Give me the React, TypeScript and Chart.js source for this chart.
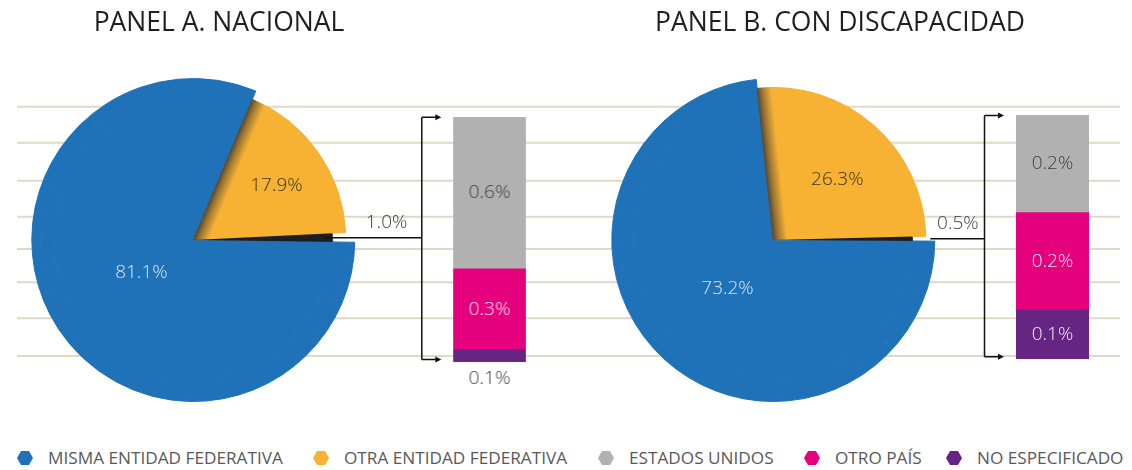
import React, { useEffect, useRef } from 'react';
import { Chart, registerables } from 'chart.js';

Chart.register(...registerables);

// ---------------- data ----------------
const panelTitles = ['PANEL A. NACIONAL', 'PANEL B. CON DISCAPACIDAD'];
const legendCategories = ['MISMA ENTIDAD FEDERATIVA', 'OTRA ENTIDAD FEDERATIVA', 'ESTADOS UNIDOS', 'OTRO PAÍS', 'NO ESPECIFICADO'];
const pieCategories = ['MISMA ENTIDAD FEDERATIVA', 'OTRA ENTIDAD FEDERATIVA', 'OTROS'];
const pieNacional = [81.1, 17.9, 1.0];
const pieDiscapacidad = [73.2, 26.3, 0.5];
const barCategories = ['ESTADOS UNIDOS', 'OTRO PAÍS', 'NO ESPECIFICADO'];
const barNacional = [0.62, 0.33, 0.05];
const barDiscapacidad = [0.2, 0.2, 0.1];

// ---------------- style / layout ----------------
const BLUE = '#1F71B8';
const YELLOW = '#F7B133';
const DARK = '#1e1e1e';
const GRAY = '#B1B1B1';
const PINK = '#E5007E';
const PURPLE = '#662483';
const legendColors = [BLUE, YELLOW, GRAY, PINK, PURPLE];
const barColors = [GRAY, PINK, PURPLE];
const FONT = '"Open Sans", "Noto Sans", sans-serif';
const GUIDE_YS = [106.7, 142.7, 180.7, 216.7, 249, 282.3, 318.3, 356];
const GUIDE_X0 = 17;
const GUIDE_X1 = 1120;
const R_OUT = 162;
const R_MID = 153;
const R_IN = 140;
const CANVAS_H = 440;
const LEGEND_X = [17, 313, 598, 804, 946];

const PANELS = [
  {
    title: panelTitles[0], pie: pieNacional, bar: barNacional,
    left: 0, width: 566, cx: 193.3, cy: 240, rotation: 90.8,
    labelFrac: [0.379, 0.648], labelShift: [1, 2],
    barBox: { left: 453.3, top: 116.7, width: 72.7, height: 245.3 }, leaderStartR: 132, titleX: 219,
  },
  {
    title: panelTitles[1], pie: pieDiscapacidad, bar: barDiscapacidad,
    left: 566, width: 566, cx: 773.3, cy: 240, rotation: 90.4,
    labelFrac: [0.411, 0.574], labelShift: [1.3, 5.5],
    barBox: { left: 1016, top: 115, width: 73, height: 244.3 }, leaderStartR: 157, titleX: 840,
  },
];

const fmtBar = (v: number) => (Math.round(v * 10) / 10).toFixed(1) + '%';
const fmtPie = (v: number) => v.toFixed(1) + '%';
const LABEL_FONT = '300 19px "Open Sans", "Noto Sans", sans-serif';

const barLabelPlugin = {
  id: 'barLabels',
  afterDatasetsDraw(chart: any) {
    const ctx = chart.ctx;
    ctx.save();
    ctx.font = LABEL_FONT;
    ctx.textAlign = 'center';
    ctx.textBaseline = 'middle';
    const bottom = chart.scales.y.getPixelForValue(0);
    chart.data.datasets.forEach((ds: any, di: number) => {
      const meta = chart.getDatasetMeta(di);
      meta.data.forEach((el: any, j: number) => {
        const { x, y, base } = el.getProps(['x', 'y', 'base'], true);
        const h = Math.abs(base - y);
        const text = fmtBar(ds.data[j]);
        if (h < 22) {
          ctx.fillStyle = '#404040';
          ctx.fillText(text, x, bottom + 17);
        } else {
          ctx.fillStyle = ds.backgroundColor === GRAY ? '#404040' : '#f4eef2';
          ctx.fillText(text, x, (y + base) / 2);
        }
      });
    });
    ctx.restore();
  },
};

function Panel({ cfg }: { cfg: any }) {
  const pieRef = useRef<HTMLCanvasElement>(null);
  const barRef = useRef<HTMLCanvasElement>(null);
  const bb = cfg.barBox;
  const PAD = 20;

  useEffect(() => {
    const barTotal = cfg.bar.reduce((a: number, b: number) => a + b, 0);
    const barChart = new Chart(barRef.current as HTMLCanvasElement, {
      type: 'bar',
      data: {
        labels: [''],
        datasets: barCategories
          .map((name, i) => ({
            label: name,
            data: [cfg.bar[i]],
            backgroundColor: barColors[i],
            borderWidth: 0,
            barPercentage: 1,
            categoryPercentage: 1,
          }))
          .reverse(),
      },
      options: {
        responsive: false,
        animation: false,
        events: [],
        layout: { padding: { left: PAD, right: PAD, top: PAD, bottom: 40 } },
        scales: {
          x: { display: false, stacked: true },
          y: { display: false, stacked: true, min: 0, max: barTotal },
        },
        plugins: { legend: { display: false }, tooltip: { enabled: false } },
      },
      plugins: [barLabelPlugin],
    } as any);

    const total = cfg.pie.reduce((a: number, b: number) => a + b, 0);
    const blueFrac = cfg.pie[0] / total;
    const yellowStart = ((cfg.rotation - 90 + 360 * blueFrac) * Math.PI) / 180;
    const T = 'rgba(0,0,0,0)';
    const yellowFill = (c: any) => {
      const a = c.chart.chartArea;
      if (!a) return YELLOW;
      const cx = (a.left + a.right) / 2;
      const cy = (a.top + a.bottom) / 2;
      const nx = -Math.sin(yellowStart);
      const ny = Math.cos(yellowStart);
      const g = c.chart.ctx.createLinearGradient(cx, cy, cx + nx * 14, cy + ny * 14);
      g.addColorStop(0, '#5a4a33');
      g.addColorStop(0.35, '#9c7632');
      g.addColorStop(1, YELLOW);
      return g;
    };
    const rings = [
      { colors: [BLUE, T, T], weight: R_OUT - R_MID },
      { colors: [BLUE, yellowFill, T], weight: R_MID - R_IN },
      { colors: [BLUE, yellowFill, DARK], weight: R_IN },
    ];
    const localCx = cfg.cx - cfg.left;
    const localBarLeft = bb.left - cfg.left;

    const piePlugin = {
      id: 'pieExtras',
      beforeDraw(chart: any) {
        const ctx = chart.ctx;
        ctx.save();
        ctx.strokeStyle = '#e2d8c6';
        ctx.lineWidth = 2;
        const x0 = Math.max(GUIDE_X0 - cfg.left, 0);
        const x1 = Math.min(GUIDE_X1 - cfg.left, cfg.width);
        GUIDE_YS.forEach((y) => {
          ctx.beginPath();
          ctx.moveTo(x0, y);
          ctx.lineTo(x1, y);
          ctx.stroke();
        });
        ctx.restore();
      },
      afterDatasetsDraw(chart: any) {
        const ctx = chart.ctx;
        const meta = chart.getDatasetMeta(2);
        ctx.save();
        ctx.font = LABEL_FONT;
        ctx.textAlign = 'center';
        ctx.textBaseline = 'middle';
        // slice labels
        [0, 1].forEach((i) => {
          const arc = meta.data[i];
          const mid = (arc.startAngle + arc.endAngle) / 2 + (cfg.labelShift[i] * Math.PI) / 180;
          const r = (i === 0 ? R_OUT : R_MID) * cfg.labelFrac[i];
          ctx.fillStyle = i === 0 ? '#dbe5f1' : '#3b3322';
          ctx.fillText(fmtPie(cfg.pie[i]), arc.x + Math.cos(mid) * r, arc.y + Math.sin(mid) * r);
        });
        // leader to bar
        const oa = meta.data[2];
        const om = (oa.startAngle + oa.endAngle) / 2;
        const sx = oa.x + Math.cos(om) * cfg.leaderStartR;
        const sy = oa.y + Math.sin(om) * cfg.leaderStartR;
        const vx = localBarLeft - 31.5;
        const tipX = localBarLeft - 12;
        const topY = bb.top + 0.5;
        const botY = bb.top + bb.height - 2.5;
        ctx.strokeStyle = '#111';
        ctx.fillStyle = '#111';
        ctx.lineWidth = 1.5;
        ctx.beginPath();
        ctx.moveTo(sx, sy);
        ctx.lineTo(vx, sy);
        ctx.moveTo(vx, topY);
        ctx.lineTo(vx, botY);
        ctx.moveTo(vx, topY);
        ctx.lineTo(tipX - 5, topY);
        ctx.moveTo(vx, botY);
        ctx.lineTo(tipX - 5, botY);
        ctx.stroke();
        [topY, botY].forEach((y) => {
          ctx.beginPath();
          ctx.moveTo(tipX, y);
          ctx.lineTo(tipX - 6, y - 3);
          ctx.lineTo(tipX - 6, y + 3);
          ctx.closePath();
          ctx.fill();
        });
        ctx.fillStyle = '#404040';
        ctx.fillText(fmtPie(cfg.pie[2]), (localCx + R_OUT + vx) / 2 - 2, sy - 15);
        ctx.restore();
      },
    };

    const colorOf = (r: any) => (c: any) => {
      const v: any = r.colors[c.dataIndex];
      return typeof v === 'function' ? v(c) : v;
    };

    const pieChart = new Chart(pieRef.current as HTMLCanvasElement, {
      type: 'pie',
      data: {
        labels: pieCategories,
        datasets: rings.map((r) => ({
          data: cfg.pie,
          weight: r.weight,
          backgroundColor: colorOf(r),
          borderColor: colorOf(r),
          borderWidth: (c: any) => (r.colors[c.dataIndex] === T || r.colors[c.dataIndex] === DARK ? 0 : 1),
        })),
      },
      options: {
        responsive: false,
        animation: false,
        events: [],
        rotation: cfg.rotation,
        layout: {
          padding: {
            left: localCx - R_OUT,
            top: cfg.cy - R_OUT,
            right: cfg.width - (localCx + R_OUT),
            bottom: CANVAS_H - (cfg.cy + R_OUT),
          },
        },
        plugins: { legend: { display: false }, tooltip: { enabled: false } },
      },
      plugins: [piePlugin],
    } as any);

    return () => {
      pieChart.destroy();
      barChart.destroy();
    };
  }, [cfg]);

  const barW = bb.width + 2 * PAD;
  const barH = bb.height + PAD + 40;
  return (
    <>
      <canvas
        ref={pieRef}
        width={cfg.width}
        height={CANVAS_H}
        style={{ position: 'absolute', left: cfg.left, top: 0, width: cfg.width, height: CANVAS_H }}
      />
      <canvas
        ref={barRef}
        width={barW}
        height={barH}
        style={{ position: 'absolute', left: bb.left - PAD, top: bb.top - PAD, width: barW, height: barH }}
      />
      <div
        style={{
          position: 'absolute', left: cfg.titleX - 300, width: 600, top: 3, textAlign: 'center',
          fontSize: 26.5, lineHeight: '36px', color: '#1f1f1f', whiteSpace: 'nowrap',
        }}
      >
        {cfg.title}
      </div>
    </>
  );
}

function Hexagon({ color }: { color: string }) {
  return (
    <svg width={16} height={14} viewBox="0 0 16 14" style={{ display: 'block' }}>
      <polygon points="4,0 12,0 16,7 12,14 4,14 0,7" fill={color} />
    </svg>
  );
}

export default function App() {
  return (
    <div
      style={{
        position: 'absolute', left: 0, top: 0, width: 1132, height: 470,
        background: '#fff', fontFamily: FONT, overflow: 'hidden',
      }}
    >
      {PANELS.map((p, i) => (
        <Panel key={i} cfg={p} />
      ))}
      {legendCategories.map((name, i) => (
        <div
          key={name}
          style={{
            position: 'absolute', left: LEGEND_X[i], top: 448, height: 20,
            display: 'flex', alignItems: 'center', whiteSpace: 'nowrap',
          }}
        >
          <Hexagon color={legendColors[i]} />
          <span style={{ marginLeft: 15, fontSize: 17.2, lineHeight: '20px', color: '#595959' }}>{name}</span>
        </div>
      ))}
    </div>
  );
}
